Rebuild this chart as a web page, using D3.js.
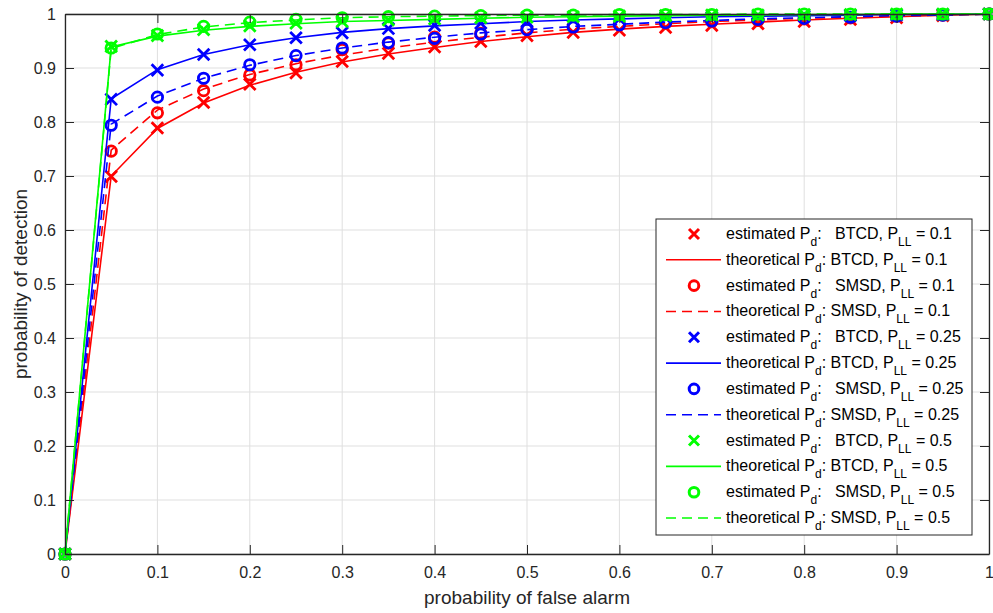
<!DOCTYPE html>
<html><head><meta charset="utf-8">
<script src="https://cdn.jsdelivr.net/npm/d3@7"></script>
<style>
body{margin:0;background:#fff;}
svg{font-family:"Liberation Sans",Arial,Helvetica,sans-serif;}
</style></head>
<body><svg id="c" width="993" height="613"></svg>
<script>
const pfa = [0,0.05,0.1,0.15,0.2,0.25,0.3,0.35,0.4,0.45,0.5,0.55,0.6,0.65,0.7,0.75,0.8,0.85,0.9,0.95,1];
const xTicks = [0,0.1,0.2,0.3,0.4,0.5,0.6,0.7,0.8,0.9,1];
const yTicks = [0,0.1,0.2,0.3,0.4,0.5,0.6,0.7,0.8,0.9,1];

const estBTCD_01  = [0,0.699,0.789,0.836,0.870,0.891,0.912,0.927,0.939,0.949,0.960,0.966,0.970,0.975,0.979,0.982,0.986,0.990,0.993,0.997,1];
const theoBTCD_01 = [0,0.700,0.788,0.835,0.868,0.892,0.911,0.926,0.938,0.949,0.958,0.966,0.972,0.977,0.981,0.985,0.989,0.992,0.995,0.998,1];
const estSMSD_01  = [0,0.746,0.817,0.858,0.887,0.906,0.934,0.946,0.957,0.964,0.972,0.977,0.980,0.983,0.986,0.988,0.991,0.993,0.996,0.998,1];
const theoSMSD_01 = [0,0.748,0.822,0.861,0.888,0.908,0.924,0.937,0.948,0.957,0.965,0.972,0.977,0.982,0.986,0.989,0.992,0.994,0.996,0.998,1];
const estBTCD_025  = [0,0.842,0.896,0.925,0.943,0.956,0.965,0.973,0.979,0.983,0.986,0.989,0.991,0.993,0.994,0.995,0.996,0.997,0.998,0.999,1];
const theoBTCD_025 = [0,0.843,0.897,0.925,0.943,0.956,0.966,0.973,0.978,0.982,0.986,0.989,0.991,0.993,0.995,0.996,0.997,0.998,0.999,0.999,1];
const estSMSD_025  = [0,0.794,0.846,0.881,0.906,0.923,0.937,0.947,0.955,0.963,0.971,0.976,0.980,0.984,0.987,0.990,0.992,0.994,0.996,0.998,1];
const theoSMSD_025 = [0,0.796,0.848,0.881,0.905,0.923,0.937,0.948,0.957,0.965,0.971,0.977,0.981,0.985,0.988,0.991,0.993,0.995,0.997,0.998,1];
const estBTCD_05  = [0,0.940,0.960,0.971,0.978,0.983,0.986,0.989,0.991,0.993,0.994,0.995,0.996,0.997,0.998,0.998,0.999,0.999,1,1,1];
const theoBTCD_05 = [0,0.939,0.959,0.970,0.977,0.982,0.986,0.988,0.990,0.992,0.994,0.995,0.996,0.997,0.998,0.998,0.999,0.999,1,1,1];
const estSMSD_05  = [0,0.937,0.963,0.977,0.985,0.990,0.993,0.995,0.996,0.997,0.998,0.998,0.999,0.999,0.999,1,1,1,1,1,1];
const theoSMSD_05 = [0,0.936,0.962,0.976,0.984,0.989,0.993,0.995,0.996,0.997,0.998,0.998,0.999,0.999,0.999,1,1,1,1,1,1];

const series = [
  {kind:"x", color:"#ff0000", data:estBTCD_01,  label:["estimated P","d",":   BTCD, P","LL"," = 0.1"]},
  {kind:"solid", color:"#ff0000", data:theoBTCD_01, label:["theoretical P","d",": BTCD, P","LL"," = 0.1"]},
  {kind:"o", color:"#ff0000", data:estSMSD_01,  label:["estimated P","d",":   SMSD, P","LL"," = 0.1"]},
  {kind:"dash", color:"#ff0000", data:theoSMSD_01, label:["theoretical P","d",": SMSD, P","LL"," = 0.1"]},
  {kind:"x", color:"#0000ff", data:estBTCD_025,  label:["estimated P","d",":   BTCD, P","LL"," = 0.25"]},
  {kind:"solid", color:"#0000ff", data:theoBTCD_025, label:["theoretical P","d",": BTCD, P","LL"," = 0.25"]},
  {kind:"o", color:"#0000ff", data:estSMSD_025,  label:["estimated P","d",":   SMSD, P","LL"," = 0.25"]},
  {kind:"dash", color:"#0000ff", data:theoSMSD_025, label:["theoretical P","d",": SMSD, P","LL"," = 0.25"]},
  {kind:"x", color:"#00ff00", data:estBTCD_05,  label:["estimated P","d",":   BTCD, P","LL"," = 0.5"]},
  {kind:"solid", color:"#00ff00", data:theoBTCD_05, label:["theoretical P","d",": BTCD, P","LL"," = 0.5"]},
  {kind:"o", color:"#00ff00", data:estSMSD_05,  label:["estimated P","d",":   SMSD, P","LL"," = 0.5"]},
  {kind:"dash", color:"#00ff00", data:theoSMSD_05, label:["theoretical P","d",": SMSD, P","LL"," = 0.5"]}
];

const svg = d3.select("#c");
const L=65, R=989, T=14, B=554;
const x = d3.scaleLinear().domain([0,1]).range([L,R]);
const y = d3.scaleLinear().domain([0,1]).range([B,T]);
const axisCol = "#262626";

// grid
const g = svg.append("g");
g.selectAll(".gx").data(xTicks).join("line")
 .attr("x1",d=>x(d)).attr("x2",d=>x(d)).attr("y1",T).attr("y2",B)
 .attr("stroke","#dfdfdf").attr("stroke-width",1);
g.selectAll(".gy").data(yTicks).join("line")
 .attr("y1",d=>y(d)).attr("y2",d=>y(d)).attr("x1",L).attr("x2",R)
 .attr("stroke","#dfdfdf").attr("stroke-width",1);

// data
const plot = svg.append("g");
const line = d3.line().x((d,i)=>x(pfa[i])).y(d=>y(d));
series.forEach(s=>{
  if(s.kind==="solid"||s.kind==="dash"){
    plot.append("path").datum(s.data).attr("d",line).attr("fill","none")
      .attr("stroke",s.color).attr("stroke-width",1.6)
      .attr("stroke-dasharray",s.kind==="dash"?"10,6":null);
  } else if(s.kind==="o"){
    plot.selectAll(null).data(s.data).join("circle")
      .attr("cx",(d,i)=>x(pfa[i])).attr("cy",d=>y(d)).attr("r",5.2)
      .attr("fill","none").attr("stroke",s.color).attr("stroke-width",2.8);
  } else {
    const h=5.8;
    plot.selectAll(null).data(s.data).join("path")
      .attr("d",(d,i)=>{const cx=x(pfa[i]),cy=y(d);return `M${cx-h},${cy-h}L${cx+h},${cy+h}M${cx-h},${cy+h}L${cx+h},${cy-h}`;})
      .attr("stroke",s.color).attr("stroke-width",2.8).attr("fill","none");
  }
});

// axes
const ax = svg.append("g");
ax.append("g").attr("transform",`translate(0,${B})`)
  .call(d3.axisBottom(x).tickValues(xTicks).tickSizeInner(-9).tickSizeOuter(0).tickPadding(13).tickFormat(d3.format("~g")));
ax.append("g").attr("transform",`translate(${R},0)`)
  .call(d3.axisRight(y).tickValues(yTicks).tickSizeInner(-9).tickSizeOuter(0).tickFormat(""));
ax.append("g").attr("transform",`translate(${L},0)`)
  .call(d3.axisLeft(y).tickValues(yTicks).tickSizeInner(-9).tickSizeOuter(0).tickPadding(9).tickFormat(d3.format("~g")));
ax.append("g").attr("transform",`translate(0,${T})`)
  .call(d3.axisTop(x).tickValues(xTicks).tickSizeInner(-9).tickSizeOuter(0).tickFormat(""));
ax.selectAll("path.domain").attr("stroke",axisCol).attr("stroke-width",1.3);
ax.selectAll(".tick line").attr("stroke",axisCol).attr("stroke-width",1);
ax.selectAll(".tick text").attr("fill",axisCol).attr("font-size",16).attr("font-family","Liberation Sans, Arial, sans-serif");

svg.append("text").attr("x",(L+R)/2).attr("y",604).attr("text-anchor","middle")
  .attr("font-size",19).attr("fill",axisCol).text("probability of false alarm");
svg.append("text").attr("transform",`translate(27,${(T+B)/2}) rotate(-90)`).attr("text-anchor","middle")
  .attr("font-size",19).attr("fill",axisCol).text("probability of detection");

// legend
const lg = svg.append("g");
const lx0=656, ly0=219, lw=316, lh=316;
lg.append("rect").attr("x",lx0).attr("y",ly0).attr("width",lw).attr("height",lh)
  .attr("fill","#fff").attr("stroke",axisCol).attr("stroke-width",1);
const rowY = d3.scaleLinear().domain([0,11]).range([234,518]);
series.forEach((s,i)=>{
  const cy=rowY(i);
  if(s.kind==="solid"||s.kind==="dash"){
    lg.append("line").attr("x1",666).attr("x2",721).attr("y1",cy).attr("y2",cy)
      .attr("stroke",s.color).attr("stroke-width",1.6)
      .attr("stroke-dasharray",s.kind==="dash"?"10,6":null);
  } else if(s.kind==="o"){
    lg.append("circle").attr("cx",694).attr("cy",cy).attr("r",4.8)
      .attr("fill","none").attr("stroke",s.color).attr("stroke-width",3);
  } else {
    const h=5,cx=694;
    lg.append("path").attr("d",`M${cx-h},${cy-h}L${cx+h},${cy+h}M${cx-h},${cy+h}L${cx+h},${cy-h}`)
      .attr("stroke",s.color).attr("stroke-width",3);
  }
  const t = lg.append("text").attr("x",726).attr("y",cy+5).attr("font-size",16)
    .attr("fill","#000").style("white-space","pre");
  t.append("tspan").text(s.label[0]);
  t.append("tspan").attr("font-size",12).attr("dy",7).text(s.label[1]);
  t.append("tspan").attr("dy",-7).text(s.label[2]);
  t.append("tspan").attr("font-size",12).attr("dy",7).text(s.label[3]);
  t.append("tspan").attr("dy",-7).text(s.label[4]);
});
</script></body></html>
